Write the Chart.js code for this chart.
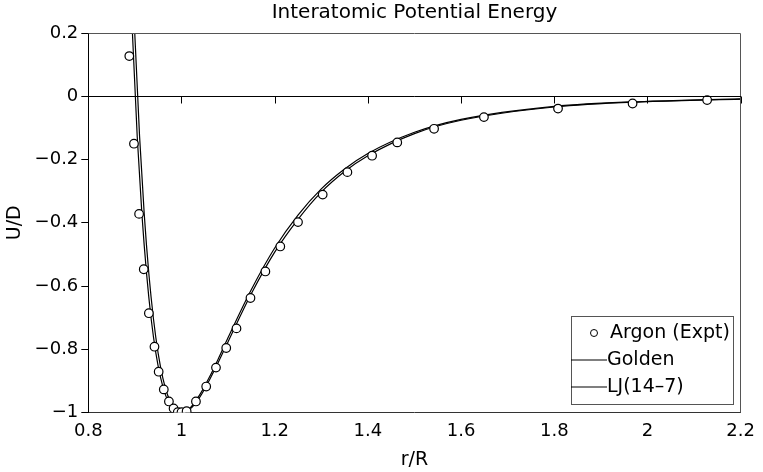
<!DOCTYPE html>
<html>
<head>
<meta charset="utf-8">
<script src="https://cdn.jsdelivr.net/npm/chart.js@4/dist/chart.umd.min.js"></script>
<style>
  html, body { margin: 0; padding: 0; background: #fff; }
  #wrap { width: 763px; height: 472px; }
</style>
</head>
<body>
<div id="wrap"><canvas id="c" width="763" height="472"></canvas></div>
<script>
// ---- data ----
const argonR = [0.888, 0.898, 0.909, 0.919, 0.930, 0.942, 0.951, 0.962, 0.973, 0.983, 0.992, 1.000, 1.011, 1.031, 1.053, 1.074, 1.096, 1.118, 1.148, 1.180, 1.212, 1.250, 1.303, 1.356, 1.409, 1.463, 1.542, 1.649, 1.808, 1.968, 2.128];
const argonU = [0.127, -0.150, -0.372, -0.547, -0.686, -0.792, -0.871, -0.927, -0.965, -0.987, -0.999, -0.999, -0.996, -0.965, -0.918, -0.858, -0.796, -0.734, -0.638, -0.554, -0.475, -0.398, -0.311, -0.240, -0.188, -0.146, -0.103, -0.066, -0.039, -0.023, -0.012];

const goldenR = [0.885, 0.895, 0.905, 0.915, 0.925, 0.935, 0.945, 0.955, 0.965, 0.975, 0.985, 1.00, 1.02, 1.04, 1.06, 1.08, 1.10, 1.15, 1.20, 1.25, 1.30, 1.35, 1.40, 1.50, 1.60, 1.80, 2.00, 2.20];
const goldenU = [0.58, 0.19, -0.128, -0.372, -0.560, -0.705, -0.812, -0.889, -0.942, -0.976, -0.994, -1.000, -0.987, -0.950, -0.897, -0.838, -0.776, -0.624, -0.493, -0.389, -0.303, -0.238, -0.188, -0.118, -0.076, -0.034, -0.017, -0.009];

const ljR = [0.89, 0.90, 0.91, 0.92, 0.93, 0.94, 0.95, 0.96, 0.97, 0.98, 0.99, 1.00, 1.02, 1.04, 1.06, 1.08, 1.10, 1.15, 1.20, 1.25, 1.30, 1.35, 1.40, 1.50, 1.60, 1.80, 2.00, 2.20];
const ljU = [0.59, 0.19, -0.126, -0.372, -0.562, -0.706, -0.814, -0.891, -0.944, -0.977, -0.995, -1.000, -0.983, -0.942, -0.888, -0.827, -0.763, -0.611, -0.480, -0.376, -0.293, -0.230, -0.181, -0.114, -0.073, -0.032, -0.016, -0.008];

const seriesNames = ['Argon (Expt)', 'Golden', 'LJ(14\u20137)'];
const xRange = [0.8, 2.2];
const yRange = [-1, 0.2];
const tickStep = 0.2;
const titleText = 'Interatomic Potential Energy';
const xTitle = 'r/R';
const yTitle = 'U/D';

// ---- helpers ----
const FONT = '"DejaVu Sans", "Liberation Sans", Arial, sans-serif';
const toPts = (xs, ys) => xs.map((x, i) => ({ x: x, y: ys[i] }));
const fmt = v => {
  const r = Math.round(v * 10) / 10;
  const s = String(Math.abs(r));
  return r < 0 ? '\u2212' + s : s;
};

// frame (top/right), zero line with hanging tick marks, placed with the library's scales
const frameAndZero = {
  id: 'frameAndZero',
  afterDatasetsDraw(chart) {
    const { ctx, chartArea } = chart;
    const xs = chart.scales.x, ys = chart.scales.y;
    const L = Math.round(chartArea.left) + 0.5, R = Math.round(chartArea.right) - 0.5;
    const T = Math.round(chartArea.top) + 0.5, B = Math.round(chartArea.bottom) - 0.5;
    ctx.save();
    ctx.lineWidth = 1;
    // top + right frame
    ctx.strokeStyle = '#555';
    ctx.beginPath();
    ctx.moveTo(L, T); ctx.lineTo(R, T); ctx.lineTo(R, B);
    ctx.stroke();
    // zero line + ticks
    const y0 = Math.round(ys.getPixelForValue(0)) + 0.5;
    ctx.strokeStyle = '#000';
    ctx.beginPath();
    ctx.moveTo(L, y0); ctx.lineTo(R + 0.5, y0);
    xs.ticks.forEach(t => {
      const px = Math.round(xs.getPixelForValue(t.value)) + 0.5;
      ctx.moveTo(px, y0);
      ctx.lineTo(px, y0 + 7);
    });
    ctx.stroke();
    ctx.restore();
  }
};

const boxLegend = {
  id: 'boxLegend',
  afterDraw(chart) {
    const { ctx, chartArea } = chart;
    const w = 162, h = 88;
    const x0 = Math.round(chartArea.right - 8 - w);
    const y0 = Math.round(chartArea.bottom - 9 - h);
    ctx.save();
    ctx.fillStyle = '#fff';
    ctx.fillRect(x0, y0, w, h);
    ctx.strokeStyle = '#555';
    ctx.lineWidth = 1;
    ctx.strokeRect(x0 + 0.5, y0 + 0.5, w, h);
    ctx.font = '19px ' + FONT;
    ctx.fillStyle = '#000';
    ctx.textBaseline = 'middle';
    ctx.textAlign = 'left';
    const rows = [y0 + 17, y0 + 44, y0 + 71];
    chart.data.datasets.forEach((ds, i) => {
      const yy = rows[i];
      if (ds.showLine) {
        ctx.strokeStyle = '#000';
        ctx.lineWidth = 1.2;
        ctx.beginPath();
        ctx.moveTo(x0, yy);
        ctx.lineTo(x0 + 36, yy);
        ctx.stroke();
        ctx.fillText(ds.label, x0 + 36, yy);
      } else {
        ctx.beginPath();
        ctx.arc(x0 + 23, yy, 3.5, 0, Math.PI * 2);
        ctx.fillStyle = '#fff';
        ctx.fill();
        ctx.strokeStyle = '#000';
        ctx.lineWidth = 1;
        ctx.stroke();
        ctx.fillStyle = '#000';
        ctx.fillText(ds.label, x0 + 39, yy);
      }
    });
    ctx.restore();
  }
};

new Chart(document.getElementById('c'), {
  type: 'scatter',
  data: {
    datasets: [
      {
        label: seriesNames[0],
        data: toPts(argonR, argonU),
        showLine: false,
        pointRadius: 4.3,
        pointBorderWidth: 1.2,
        pointBackgroundColor: '#fff',
        pointBorderColor: '#000'
      },
      {
        label: seriesNames[1],
        data: toPts(goldenR, goldenU),
        showLine: true,
        borderColor: '#000',
        borderWidth: 1.2,
        pointRadius: 0,
        cubicInterpolationMode: 'monotone'
      },
      {
        label: seriesNames[2],
        data: toPts(ljR, ljU),
        showLine: true,
        borderColor: '#000',
        borderWidth: 1.2,
        pointRadius: 0,
        cubicInterpolationMode: 'monotone'
      }
    ]
  },
  options: {
    responsive: false,
    animation: false,
    events: [],
    layout: { padding: { left: 0, right: 18, top: 0, bottom: 0 } },
    plugins: {
      legend: { display: false },
      tooltip: { enabled: false },
      title: {
        display: true,
        text: titleText,
        fullSize: false,
        color: '#000',
        font: { family: FONT, size: 20, weight: 'normal' },
        padding: { top: 1, bottom: 8 }
      }
    },
    scales: {
      x: {
        type: 'linear',
        position: 'bottom',
        min: xRange[0], max: xRange[1],
        grid: { display: false, drawTicks: false },
        border: { display: true, color: '#333', width: 1 },
        ticks: {
          stepSize: tickStep, color: '#000', padding: 8,
          font: { family: FONT, size: 18 },
          callback: v => fmt(v),
          maxRotation: 0
        },
        title: {
          display: true, text: xTitle, color: '#000',
          font: { family: FONT, size: 19 },
          padding: { top: 0, bottom: 1 }
        },
        afterFit: s => { s.height = 59.5; }
      },
      y: {
        type: 'linear',
        position: 'left',
        min: yRange[0], max: yRange[1],
        grid: { display: true, drawOnChartArea: false, drawTicks: true, tickLength: 7, color: '#000', lineWidth: 1 },
        border: { display: true, color: '#000', width: 1 },
        ticks: {
          stepSize: tickStep, color: '#000', padding: 3,
          font: { family: FONT, size: 18 },
          callback: v => fmt(v)
        },
        title: {
          display: true, text: yTitle, color: '#000',
          font: { family: FONT, size: 19 },
          padding: { top: 4, bottom: 0 }
        },
        afterFit: s => { s.width = 88.3; }
      }
    }
  },
  plugins: [frameAndZero, boxLegend]
});
</script>
</body>
</html>
